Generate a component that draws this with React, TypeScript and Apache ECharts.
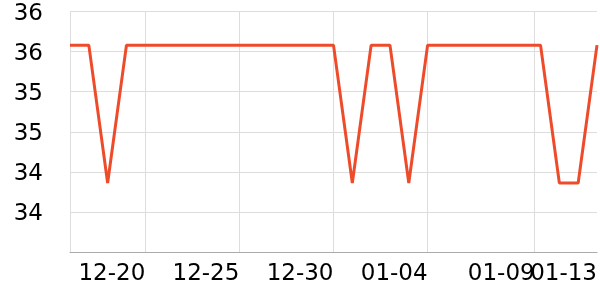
import React, { useEffect, useRef } from "react";
import * as echarts from "echarts";

const dates: string[] = [
  "2023-12-16", "2023-12-17", "2023-12-18", "2023-12-19", "2023-12-20",
  "2023-12-21", "2023-12-22", "2023-12-23", "2023-12-24", "2023-12-25",
  "2023-12-26", "2023-12-27", "2023-12-28", "2023-12-29", "2023-12-30",
  "2023-12-31", "2024-01-01", "2024-01-02", "2024-01-03", "2024-01-04",
  "2024-01-05", "2024-01-06", "2024-01-07", "2024-01-08", "2024-01-09",
  "2024-01-10", "2024-01-11", "2024-01-12", "2024-01-13",
];
const values: number[] = [
  36.08, 36.08, 34.36, 36.08, 36.08,
  36.08, 36.08, 36.08, 36.08, 36.08,
  36.08, 36.08, 36.08, 36.08, 36.08,
  34.36, 36.08, 36.08, 34.36, 36.08,
  36.08, 36.08, 36.08, 36.08, 36.08,
  36.08, 34.36, 34.36, 36.08,
];
const gridLineDates: string[] = [
  "2023-12-16", "2023-12-20", "2023-12-25", "2023-12-30", "2024-01-04", "2024-01-09 16:30",
];
const labelDates: string[] = [
  "2023-12-20", "2023-12-25", "2023-12-30", "2024-01-04", "2024-01-09 16:30",
];
const lastLabelDates: string[] = ["2024-01-13"];

const ts = (s: string) =>
  new Date(s.includes(" ") ? s.replace(" ", "T") + ":00" : s + "T00:00:00").getTime();

const fmtDate = (v: number) => {
  const d = new Date(v);
  const mm = String(d.getMonth() + 1).padStart(2, "0");
  const dd = String(d.getDate()).padStart(2, "0");
  return `${mm}-${dd}`;
};

export default function App() {
  const ref = useRef<HTMLDivElement>(null);
  useEffect(() => {
    if (!ref.current) return;
    const chart = echarts.init(ref.current, undefined, { renderer: "svg" });
    const data = dates.map((d, i) => [ts(d), values[i]]);
    const xMin = ts(dates[0]);
    const xMax = ts(dates[dates.length - 1]);
    const labelStyle = {
      formatter: (v: number) => fmtDate(v),
      align: "right",
      hideOverlap: false,
      fontSize: 23,
      color: "#000",
      fontFamily: "DejaVu Sans",
      margin: 8,
    };
    chart.setOption({
      animation: false,
      grid: { left: 70, right: 1, top: 10, bottom: 48 },
      xAxis: [
        {
          type: "value",
          min: xMin,
          max: xMax,
          axisLine: { show: true, lineStyle: { color: "#aaaaaa", width: 1 } },
          axisTick: { show: false, customValues: gridLineDates.map(ts) },
          splitLine: { show: true, lineStyle: { color: "#dddddd", width: 1 } },
          axisLabel: { ...labelStyle, customValues: labelDates.map(ts) },
        },
        {
          type: "value",
          position: "bottom",
          min: xMin,
          max: xMax,
          axisLine: { show: false },
          axisTick: { show: false, customValues: lastLabelDates.map(ts) },
          splitLine: { show: false },
          axisLabel: { ...labelStyle, customValues: lastLabelDates.map(ts), showMaxLabel: true },
        },
      ],
      yAxis: {
        type: "value",
        min: 33.5,
        max: 36.5,
        interval: 0.5,
        axisLine: { show: false },
        axisTick: { show: false },
        splitLine: { show: true, lineStyle: { color: "#dddddd", width: 1 } },
        axisLabel: {
          formatter: (v: number) => String(Math.floor(v)),
          showMinLabel: false,
          fontSize: 23,
          color: "#000",
          fontFamily: "DejaVu Sans",
          margin: 27,
        },
      },
      series: [
        {
          type: "line",
          xAxisIndex: 0,
          data,
          showSymbol: false,
          symbol: "none",
          lineStyle: { color: "#ee4b2b", width: 3 },
          itemStyle: { color: "#ee4b2b" },
        },
      ],
    });
    return () => chart.dispose();
  }, []);
  return (
    <div
      ref={ref}
      style={{ position: "fixed", left: 0, top: 0, width: 600, height: 300 }}
    />
  );
}
